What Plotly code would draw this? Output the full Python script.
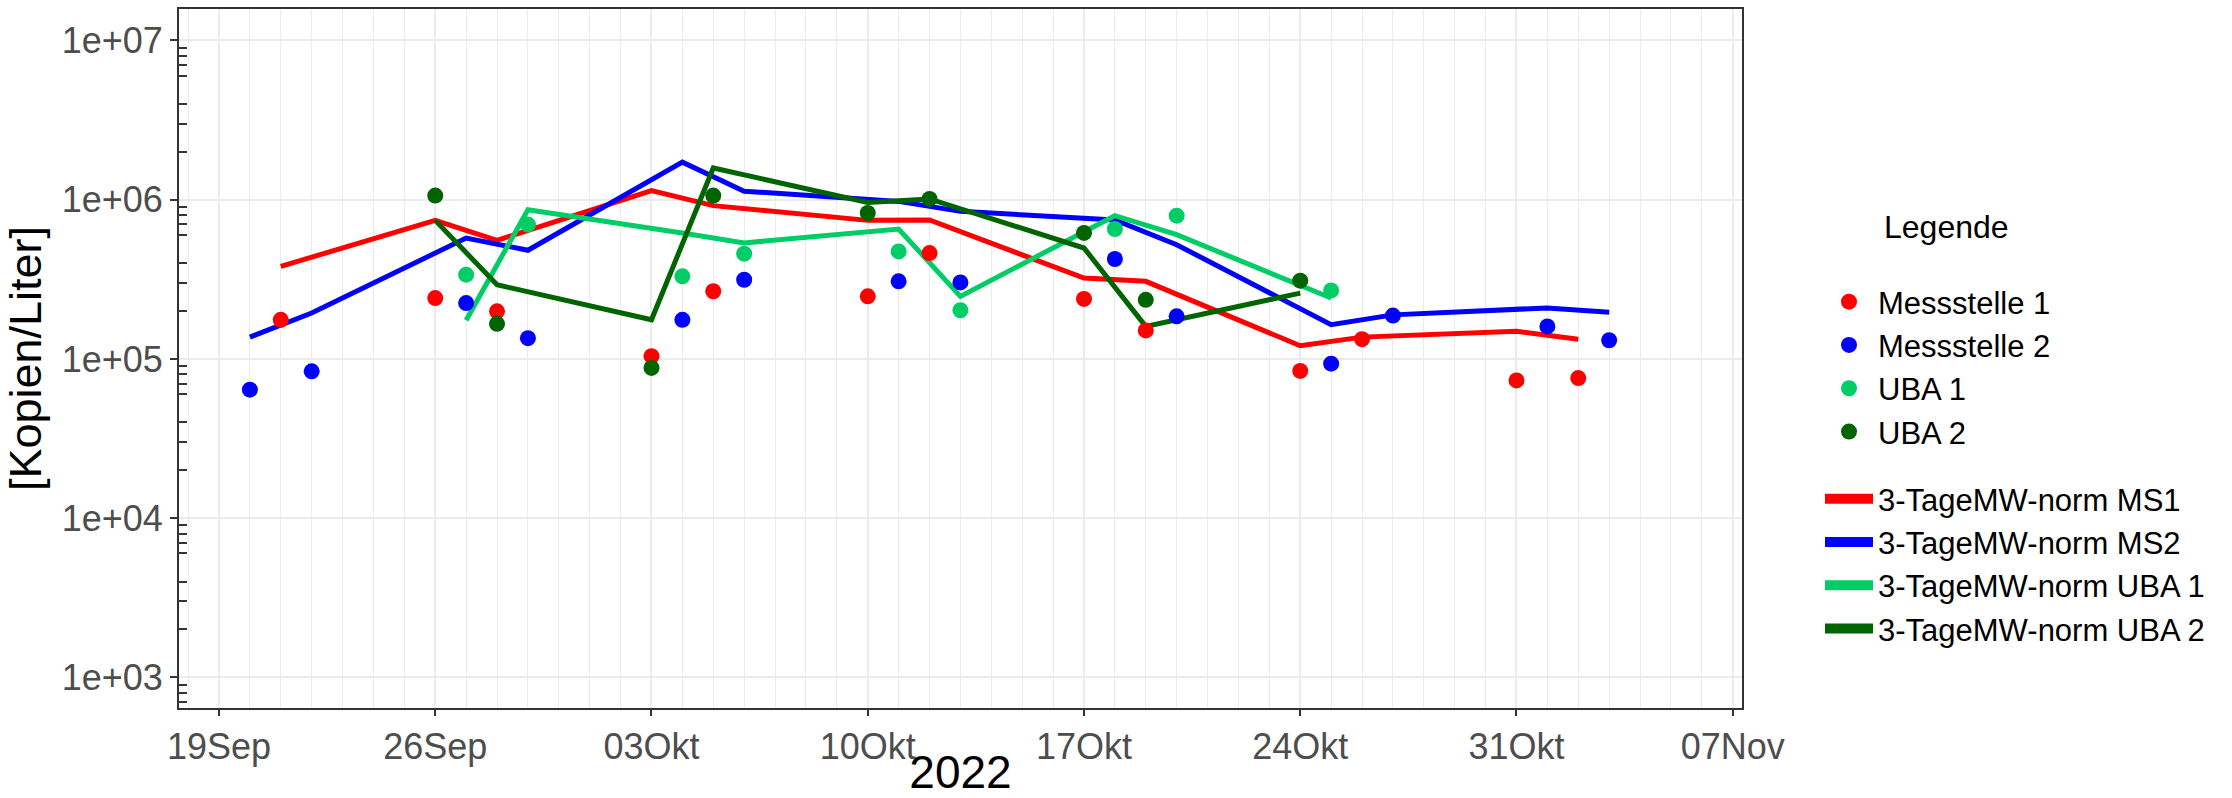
import plotly.graph_objects as go

# ---------------- data ----------------
ms1_dates = ["2022-09-21", "2022-09-26", "2022-09-28", "2022-10-03", "2022-10-05", "2022-10-10",
             "2022-10-12", "2022-10-17", "2022-10-19", "2022-10-24", "2022-10-26", "2022-10-31", "2022-11-02"]
ms1_values = [176000, 241000, 199000, 104000, 266000, 247000, 462000, 238000, 151000, 84000, 133000, 73300, 75800]
ms1_mw = [381000, 741000, 555000, 1140000, 917000, 741000, 745000, 322000, 307000, 121000, 137000, 149000, 133000]

ms2_dates = ["2022-09-20", "2022-09-22", "2022-09-27", "2022-09-29", "2022-10-04", "2022-10-06", "2022-10-11",
             "2022-10-13", "2022-10-18", "2022-10-20", "2022-10-25", "2022-10-27", "2022-11-01", "2022-11-03"]
ms2_values = [64100, 83500, 224000, 135000, 176000, 314000, 307000, 302000, 424000, 185000, 93300, 187000, 160000, 131000]
ms2_mw = [137000, 194000, 574000, 481000, 1720000, 1130000, 975000, 844000, 745000, 521000, 164000, 189000, 209000, 196000]

uba1_dates = ["2022-09-27", "2022-09-29", "2022-10-04", "2022-10-06", "2022-10-11", "2022-10-13",
              "2022-10-18", "2022-10-20", "2022-10-25"]
uba1_values = [338000, 697000, 330000, 458000, 473000, 202000, 654000, 793000, 269000]
uba1_mw = [175000, 865000, 618000, 535000, 654000, 247000, 793000, 603000, 241000]

uba2_dates = ["2022-09-26", "2022-09-28", "2022-10-03", "2022-10-05", "2022-10-10", "2022-10-12",
              "2022-10-17", "2022-10-19", "2022-10-24"]
uba2_values = [1060000, 166000, 87800, 1060000, 824000, 1010000, 618000, 235000, 310000]
uba2_mw = [741000, 292000, 176000, 1580000, 961000, 1010000, 497000, 160000, 259000]

x_tick_vals = ["2022-09-19", "2022-09-26", "2022-10-03", "2022-10-10", "2022-10-17",
               "2022-10-24", "2022-10-31", "2022-11-07"]
x_tick_text = ["19Sep", "26Sep", "03Okt", "10Okt", "17Okt", "24Okt", "31Okt", "07Nov"]
y_tick_vals = [1e3, 1e4, 1e5, 1e6, 1e7]
y_tick_text = ["1e+03", "1e+04", "1e+05", "1e+06", "1e+07"]

point_names = ["Messstelle 1", "Messstelle 2", "UBA 1", "UBA 2"]
line_names = ["3-TageMW-norm MS1", "3-TageMW-norm MS2", "3-TageMW-norm UBA 1", "3-TageMW-norm UBA 2"]
colors = ["#FF0000", "#0000FF", "#00CD66", "#006400"]

# ---------------- layout constants ----------------
W, H = 2232, 798
L, R, T, B = 179, 490, 9, 90
FONT = "Liberation Sans, Arial, Helvetica, sans-serif"
GRID = "#EBEBEB"
DARK = "#333333"
LEG_FONT = 31

series = [
    (ms1_dates, ms1_values, ms1_mw),
    (ms2_dates, ms2_values, ms2_mw),
    (uba1_dates, uba1_values, uba1_mw),
    (uba2_dates, uba2_values, uba2_mw),
]

fig = go.Figure()

# 3-day mean lines (drawn underneath the points)
for i, (d, v, mw) in enumerate(series):
    fig.add_trace(go.Scatter(
        x=d, y=mw, mode="lines", name=line_names[i],
        line=dict(color=colors[i], width=5),
        showlegend=False,
    ))

# measured points
for i, (d, v, mw) in enumerate(series):
    fig.add_trace(go.Scatter(
        x=d, y=v, mode="markers", name=point_names[i],
        marker=dict(color=colors[i], size=16),
        legend="legend", legendrank=1 + i,
    ))

# legend keys for the lines (thick swatches like the ggplot key)
for i in range(4):
    fig.add_trace(go.Scatter(
        x=[None], y=[None], mode="lines", name=line_names[i],
        line=dict(color=colors[i], width=14),
        legend="legend2", legendrank=1 + i,
        hoverinfo="skip",
    ))

minor_y = [m * 10 ** k for k in range(2, 8) for m in (2, 3, 4, 6, 7, 8, 9)]
mid_y = [5 * 10 ** k for k in range(2, 8)]

plot_h = H - T - B
plot_w = W - L - R

legend_common = dict(
    xref="container", yref="container", xanchor="left", yanchor="top",
    font=dict(size=LEG_FONT, color="black", family=FONT),
    bgcolor="rgba(0,0,0,0)", borderwidth=0, itemwidth=48,
)

fig.update_layout(
    width=W, height=H,
    margin=dict(l=L, r=R, t=T, b=B, autoexpand=False),
    paper_bgcolor="white", plot_bgcolor="white",
    font=dict(family=FONT, color="black"),
    showlegend=True,
    legend=dict(x=1820 / W, y=1 - 275 / H, **legend_common),
    legend2=dict(x=1820 / W, y=1 - 472 / H, **legend_common),
    xaxis=dict(
        type="date",
        range=["2022-09-17 16:56", "2022-11-07 07:12"],
        tickmode="array", tickvals=x_tick_vals, ticktext=x_tick_text,
        ticks="outside", ticklen=6, tickwidth=2, tickcolor=DARK,
        tickfont=dict(size=36, color="#4D4D4D", family=FONT),
        showgrid=True, gridcolor=GRID, gridwidth=1.6,
        minor=dict(dtick=86400000, tick0="2022-09-19", showgrid=True, gridcolor=GRID, gridwidth=1.1),
        showline=True, mirror=True, linecolor=DARK, linewidth=2,
        zeroline=False,
        title=dict(text="2022", font=dict(size=46, color="black", family=FONT), standoff=14),
    ),
    yaxis=dict(
        type="log",
        range=[2.808, 7.197],
        tickmode="array", tickvals=y_tick_vals, ticktext=y_tick_text,
        ticks="outside", ticklen=7, tickwidth=2, tickcolor=DARK,
        tickfont=dict(size=36, color="#4D4D4D", family=FONT),
        showgrid=True, gridcolor=GRID, gridwidth=1.6,
        minor=dict(tickmode="array", tickvals=minor_y, ticks="inside", ticklen=8,
                   tickwidth=2, tickcolor=DARK, showgrid=False),
        showline=True, mirror=True, linecolor=DARK, linewidth=2,
        zeroline=False,
        title=dict(text="[Kopien/Liter]", font=dict(size=45, color="black", family=FONT), standoff=8),
    ),
    yaxis2=dict(
        type="log", overlaying="y", anchor="x", side="left",
        range=[2.808, 7.197],
        tickmode="array", tickvals=y_tick_vals,
        ticks="inside", ticklen=21, tickwidth=2, tickcolor=DARK,
        showticklabels=False, showgrid=False, zeroline=False, showline=False,
        minor=dict(tickmode="array", tickvals=mid_y, ticks="inside", ticklen=14,
                   tickwidth=2, tickcolor=DARK, showgrid=True, gridcolor=GRID, gridwidth=1.1),
    ),
    annotations=[dict(
        text="Legende", xref="paper", yref="paper",
        x=(1882 - L) / plot_w, y=(H - B - 227) / plot_h,
        xanchor="left", yanchor="middle", showarrow=False,
        font=dict(size=32, color="black", family=FONT),
    )],
)

fig.write_html("out.html")
